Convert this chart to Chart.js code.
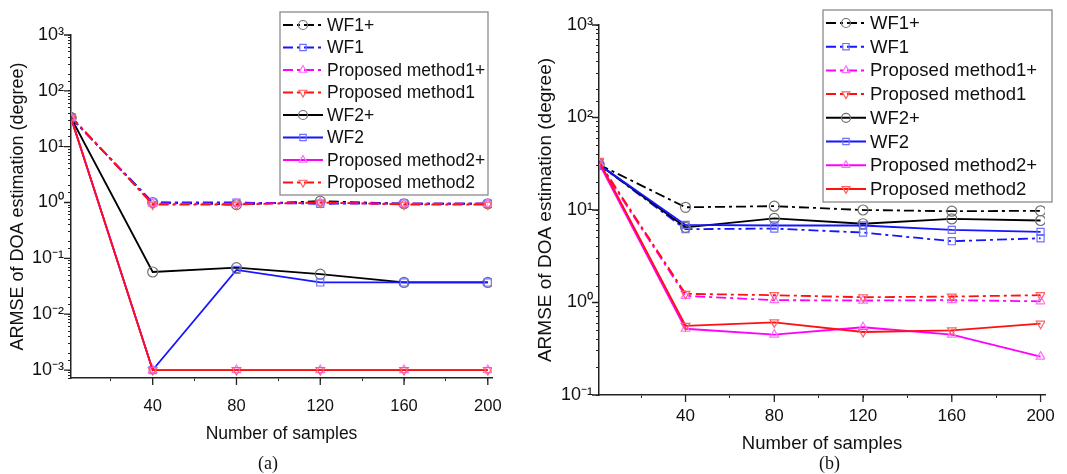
<!DOCTYPE html>
<html>
<head>
<meta charset="utf-8">
<script src="https://cdn.jsdelivr.net/npm/chart.js@4.4.0/dist/chart.umd.min.js"></script>
<style>
body{margin:0;background:#fff;width:1067px;height:474px;position:relative;overflow:hidden;font-family:"Liberation Sans",Arial,sans-serif}
.box{position:absolute;top:0;height:474px}
.cap{position:absolute;top:453px;font-family:"Liberation Serif",serif;font-size:18px;color:#111}
</style>
</head>
<body>
<div class="box" style="left:0;width:530px"><canvas id="chartA"></canvas></div>
<div class="box" style="left:530px;width:537px"><canvas id="chartB"></canvas></div>
<div class="cap" style="left:258px">(a)</div>
<div class="cap" style="left:819px">(b)</div>
<script>
// sample sizes (x axis)
const samples = [1, 40, 80, 120, 160, 200]
const seriesNames = ['WF1+', 'WF1', 'Proposed method1+', 'Proposed method1', 'WF2+', 'WF2', 'Proposed method2+', 'Proposed method2']
const xTicks = [20, 40, 60, 80, 100, 120, 140, 160, 180, 200]

// (a)
const aWF1p = [33, 1.0, 0.92, 1.06, 0.95, 0.95]
const aWF1  = [33, 1.0, 1.0, 0.95, 0.96, 0.95]
const aPM1p = [34, 0.95, 0.95, 1.0, 0.95, 0.95]
const aPM1  = [35, 0.92, 0.92, 1.0, 0.92, 0.92]
const aWF2p = [33, 0.057, 0.068, 0.052, 0.037, 0.037]
const aWF2  = [33, 0.001, 0.062, 0.037, 0.037, 0.037]
const aPM2p = [33, 0.001, 0.001, 0.001, 0.001, 0.001]
const aPM2  = [33, 0.001, 0.001, 0.001, 0.001, 0.001]

// (b)
const bWF1p = [31, 10.7, 11, 10, 9.7, 9.8]
const bWF1  = [31, 6.2, 6.3, 5.7, 4.6, 4.95]
const bPM1p = [32, 1.18, 1.06, 1.05, 1.06, 1.03]
const bPM1  = [33, 1.24, 1.2, 1.14, 1.16, 1.2]
const bWF2p = [31, 6.5, 8.1, 7.1, 8.0, 7.7]
const bWF2  = [31, 6.9, 6.8, 6.8, 6.1, 5.8]
const bPM2p = [32, 0.52, 0.45, 0.54, 0.45, 0.26]
const bPM2  = [34, 0.56, 0.61, 0.48, 0.50, 0.59]

const lineCols  = ['#000000', '#1515ff', '#ff00ff', '#ff1010', '#000000', '#1515ff', '#ff00ff', '#ff1010']
const markCols  = ['#707070', '#7070ff', '#ff70ff', '#ff6060', '#707070', '#7070ff', '#ff70ff', '#ff6060']
const markers   = ['circle', 'rect', 'triangle', 'triangle', 'circle', 'rect', 'triangle', 'triangle']
const rotations = [0, 0, 0, 180, 0, 0, 0, 180]
const dashDot = [10, 4, 3, 4]
const dashed  = [true, true, true, true, false, false, false, false]

const FONT = '"Liberation Sans", Arial, sans-serif'
const sup = {'-': '⁻', '0': '⁰', '1': '¹', '2': '²', '3': '³'}

function makeDatasets(values){
    return values.map((vals, i) => ({
        label: seriesNames[i],
        data: samples.map((x, j) => ({x: x, y: vals[j]})),
        borderColor: lineCols[i],
        borderWidth: 1.8,
        borderDash: dashed[i] ? dashDot : [],
        pointStyle: markers[i],
        pointRotation: rotations[i],
        pointRadius: 5,
        pointBorderColor: markCols[i],
        pointBackgroundColor: 'rgba(255,255,255,0)',
        pointBorderWidth: 1.2,
        tension: 0,
        order: 7 - i
    }))
}

// legend drawn inside the plot like the original
const legendBox = {
    id: 'legendBox',
    afterDraw(chart, args, o){
        const ctx = chart.ctx
        ctx.save()
        ctx.fillStyle = '#fff'
        ctx.fillRect(o.x, o.y, o.w, o.h)
        ctx.strokeStyle = '#8a8a8a'
        ctx.lineWidth = 1.3
        ctx.strokeRect(o.x, o.y, o.w, o.h)
        chart.data.datasets.forEach((ds, i) => {
            const y = o.y0 + i * o.row
            ctx.strokeStyle = ds.borderColor
            ctx.lineWidth = 2
            ctx.setLineDash(o.dash && o.dash[i] ? dashDot : ds.borderDash)
            ctx.beginPath()
            ctx.moveTo(o.x + 3, y)
            ctx.lineTo(o.x + 3 + o.len, y)
            ctx.stroke()
            ctx.setLineDash([])
            ctx.strokeStyle = ds.pointBorderColor
            ctx.fillStyle = 'rgba(255,255,255,0)'
            ctx.lineWidth = 1.2
            Chart.helpers.drawPoint(ctx, {pointStyle: ds.pointStyle, rotation: ds.pointRotation, radius: 4.5, borderWidth: 1.2}, o.x + 3 + o.len / 2, y)
            ctx.fillStyle = '#111'
            ctx.font = o.size + 'px ' + FONT
            ctx.textBaseline = 'middle'
            ctx.fillText(ds.label, o.x + o.len + 7, y + 1)
        })
        ctx.restore()
    }
}

// longer tick marks for the labelled ticks
const majorTicks = {
    id: 'majorTicks',
    afterDraw(chart){
        const ctx = chart.ctx
        const xs = chart.scales.x, ys = chart.scales.y
        ctx.save()
        ctx.strokeStyle = '#222'
        ctx.lineWidth = 1.3
        ctx.beginPath()
        xs.ticks.forEach(t => {
            if (t.value % 40 === 0){
                const px = xs.getPixelForValue(t.value)
                ctx.moveTo(px, xs.top)
                ctx.lineTo(px, xs.top + 7)
            }
        })
        ys.ticks.forEach(t => {
            const e = Math.log10(t.value)
            if (Math.abs(e - Math.round(e)) < 1e-9){
                const py = ys.getPixelForValue(t.value)
                ctx.moveTo(ys.right, py)
                ctx.lineTo(ys.right - 7, py)
            }
        })
        ctx.stroke()
        ctx.restore()
    }
}

function makeChart(id, values, g){
    return new Chart(document.getElementById(id), {
        type: 'line',
        data: {datasets: makeDatasets(values)},
        plugins: [legendBox, majorTicks],
        options: {
            responsive: true,
            maintainAspectRatio: false,
            animation: false,
            layout: {padding: {left: g.padLeft, right: g.padRight, top: g.padTop, bottom: g.padBottom}},
            plugins: {
                legend: {display: false},
                tooltip: {enabled: false},
                legendBox: g.legend
            },
            scales: {
                x: {
                    type: 'linear',
                    min: 1,
                    max: 202,
                    afterBuildTicks: s => { s.ticks = xTicks.map(v => ({value: v})) },
                    afterFit: s => { s.height = g.xHeight },
                    grid: {drawOnChartArea: false, tickLength: 3, tickColor: '#222'},
                    border: {color: '#222', width: 1.5},
                    ticks: {
                        autoSkip: false,
                        maxRotation: 0,
                        padding: g.xPad,
                        color: '#111',
                        font: {family: FONT, size: g.xTick},
                        callback: v => v % 40 === 0 ? String(v) : ''
                    },
                    title: {display: true, text: 'Number of samples', color: '#111', padding: 0, font: {family: FONT, size: g.xTitle}}
                },
                y: {
                    type: 'logarithmic',
                    min: g.yMin,
                    max: 1000,
                    afterFit: s => { s.width = g.yWidth },
                    grid: {drawOnChartArea: false, tickLength: 3, tickColor: '#222'},
                    border: {color: '#222', width: 1.5},
                    ticks: {
                        autoSkip: false,
                        padding: g.yPad,
                        color: '#111',
                        font: {family: FONT, size: g.yTick},
                        callback: v => {
                            const e = Math.log10(v)
                            if (Math.abs(e - Math.round(e)) > 1e-9) return ''
                            return '10' + String(Math.round(e)).split('').map(c => sup[c]).join('')
                        }
                    },
                    title: {display: true, text: 'ARMSE of DOA estimation (degree)', color: '#111', padding: 0, font: {family: FONT, size: g.yTitle}}
                }
            }
        }
    })
}

makeChart('chartA', [aWF1p, aWF1, aPM1p, aPM1, aWF2p, aWF2, aPM2p, aPM2], {
    padLeft: 7, padRight: 38, padTop: 35, padBottom: 29,
    xHeight: 67, yWidth: 64, xPad: 16, yPad: 4, yMin: 0.00072,
    xTick: 16.5, yTick: 18, xTitle: 17.5, yTitle: 18,
    legend: {x: 280, y: 12, w: 208, h: 183, y0: 25, row: 22.5, len: 40, size: 17.5, dash: [0, 0, 0, 0, 0, 0, 0, 1]}
})

makeChart('chartB', [bWF1p, bWF1, bPM1p, bPM1, bWF2p, bWF2, bPM2p, bPM2], {
    padLeft: 4, padRight: 22, padTop: 25, padBottom: 19,
    xHeight: 60, yWidth: 65, xPad: 8, yPad: 3, yMin: 0.1,
    xTick: 17, yTick: 18, xTitle: 18.5, yTitle: 19,
    legend: {x: 293, y: 10, w: 229, h: 192, y0: 23, row: 23.7, len: 40, size: 18.5}
})
</script>
</body>
</html>
